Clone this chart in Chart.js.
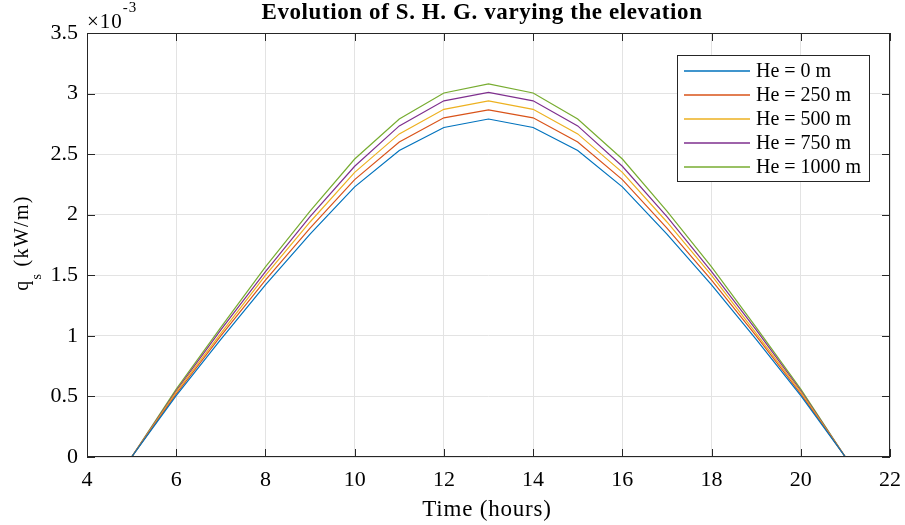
<!DOCTYPE html>
<html>
<head>
<meta charset="utf-8">
<script src="https://cdn.jsdelivr.net/npm/chart.js@4.4.0/dist/chart.umd.min.js"></script>
<style>
  body { margin: 0; padding: 0; background: white; }
  #wrap { width: 905px; height: 525px; }
</style>
</head>
<body>
<div id="wrap"><canvas id="chartCanvas"></canvas></div>
<script>
// hours of the day
const hours = [5, 6, 7, 8, 9, 10, 11, 12, 13, 14, 15, 16, 17, 18, 19, 20, 21];

// solar heat gain q_s, in units of 1e-3 kW/m
const qsHe0    = [0, 0.507, 0.97, 1.42, 1.84, 2.23, 2.53, 2.72, 2.79, 2.72, 2.53, 2.23, 1.84, 1.42, 0.97, 0.507, 0];
const qsHe250  = [0, 0.52, 1.00, 1.46, 1.89, 2.29, 2.60, 2.80, 2.865, 2.80, 2.60, 2.29, 1.89, 1.46, 1.00, 0.52, 0];
const qsHe500  = [0, 0.535, 1.02, 1.50, 1.94, 2.35, 2.667, 2.87, 2.94, 2.87, 2.667, 2.35, 1.94, 1.50, 1.02, 0.535, 0];
const qsHe750  = [0, 0.547, 1.05, 1.53, 1.985, 2.40, 2.733, 2.94, 3.01, 2.94, 2.733, 2.40, 1.985, 1.53, 1.05, 0.547, 0];
const qsHe1000 = [0, 0.56, 1.07, 1.57, 2.03, 2.46, 2.79, 3.005, 3.08, 3.005, 2.79, 2.46, 2.03, 1.57, 1.07, 0.56, 0];

const seriesLabels = ['He = 0 m', 'He = 250 m', 'He = 500 m', 'He = 750 m', 'He = 1000 m'];
const seriesValues = [qsHe0, qsHe250, qsHe500, qsHe750, qsHe1000];
const seriesColors = ['#0072BD', '#D95319', '#EDB120', '#7E2F8E', '#77AC30'];

const xTicks = [4, 6, 8, 10, 12, 14, 16, 18, 20, 22];
const yTicks = [0, 0.5, 1, 1.5, 2, 2.5, 3, 3.5];

const SERIF = '"Liberation Serif", "Times New Roman", serif';
const AXIS = '#262626';
const GRID = '#e3e3e3';

const datasets = seriesValues.map((vals, i) => ({
  label: seriesLabels[i],
  data: hours.map((h, k) => ({ x: h, y: vals[k] })),
  borderColor: seriesColors[i],
  backgroundColor: seriesColors[i],
  borderWidth: 1.2,
  pointRadius: 0,
  tension: 0
}));

// title, axis labels, exponent, inward ticks, box and legend
const decorations = {
  id: 'decorations',
  afterDraw(chart) {
    const ctx = chart.ctx;
    const a = chart.chartArea;
    const xs = chart.scales.x, ys = chart.scales.y;
    ctx.save();

    // box
    ctx.strokeStyle = AXIS;
    ctx.lineWidth = 1;
    ctx.strokeRect(a.left + 0.5, a.top + 0.5, a.right - a.left - 1, a.bottom - a.top - 1);

    // inward tick marks on all four sides
    ctx.beginPath();
    xTicks.forEach(t => {
      const px = Math.round(xs.getPixelForValue(t)) + 0.5;
      ctx.moveTo(px, a.bottom); ctx.lineTo(px, a.bottom - 8);
      ctx.moveTo(px, a.top); ctx.lineTo(px, a.top + 8);
    });
    yTicks.forEach(t => {
      const py = Math.round(ys.getPixelForValue(t)) + 0.5;
      ctx.moveTo(a.left, py); ctx.lineTo(a.left + 8, py);
      ctx.moveTo(a.right, py); ctx.lineTo(a.right - 8, py);
    });
    ctx.stroke();

    ctx.fillStyle = '#000';
    ctx.textBaseline = 'alphabetic';

    // title
    ctx.textAlign = 'center';
    ctx.letterSpacing = '0.6px';
    ctx.font = 'bold 23px ' + SERIF;
    ctx.fillText('Evolution of S. H. G. varying the elevation', 482, 19);

    // x axis label
    ctx.letterSpacing = '0.8px';
    ctx.font = '23px ' + SERIF;
    ctx.fillText('Time (hours)', 487, 516);

    // y axis label with a dropped subscript
    ctx.save();
    ctx.translate(28, 243);
    ctx.rotate(-Math.PI / 2);
    ctx.textAlign = 'left';
    ctx.letterSpacing = '1.3px';
    ctx.font = '20px ' + SERIF;
    const w1 = ctx.measureText('q').width;
    ctx.font = '14px ' + SERIF;
    const w2 = ctx.measureText('s').width;
    ctx.font = '20px ' + SERIF;
    const w3 = ctx.measureText(' (kW/m)').width;
    const x0 = -(w1 + w2 + w3) / 2;
    ctx.fillText('q', x0, 0);
    ctx.font = '14px ' + SERIF;
    ctx.fillText('s', x0 + w1, 13);
    ctx.font = '20px ' + SERIF;
    ctx.fillText(' (kW/m)', x0 + w1 + w2, 0);
    ctx.restore();

    // exponent
    ctx.textAlign = 'left';
    ctx.letterSpacing = '1px';
    ctx.font = '21px ' + SERIF;
    ctx.fillText('\u00d710', a.left, 28);
    const ew = ctx.measureText('\u00d710').width;
    ctx.font = '15px ' + SERIF;
    ctx.fillText('-3', a.left + ew, 12);
    ctx.letterSpacing = '0px';

    // legend
    const lx = 677, ly = 55, lw = 192, lh = 126;
    ctx.fillStyle = '#fff';
    ctx.fillRect(lx, ly, lw, lh);
    ctx.strokeStyle = AXIS;
    ctx.lineWidth = 1;
    ctx.strokeRect(lx + 0.5, ly + 0.5, lw, lh);
    ctx.font = '20px ' + SERIF;
    ctx.textBaseline = 'middle';
    seriesLabels.forEach((lab, i) => {
      const cy = 71 + i * 24;
      ctx.strokeStyle = seriesColors[i];
      ctx.lineWidth = 1.4;
      ctx.beginPath();
      ctx.moveTo(684, cy);
      ctx.lineTo(750, cy);
      ctx.stroke();
      ctx.fillStyle = '#000';
      ctx.fillText(lab, 756, cy + 1);
    });

    ctx.restore();
  }
};

new Chart(document.getElementById('chartCanvas'), {
  type: 'line',
  data: { datasets },
  plugins: [decorations],
  options: {
    responsive: true,
    maintainAspectRatio: false,
    animation: false,
    layout: { padding: { left: 0, top: 33, right: 15, bottom: 0 } },
    plugins: {
      legend: { display: false },
      tooltip: { enabled: false },
      title: { display: false }
    },
    scales: {
      x: {
        type: 'linear',
        min: 4,
        max: 22,
        afterBuildTicks: s => { s.ticks = xTicks.map(v => ({ value: v })); },
        afterFit: s => { s.height = 68; s.paddingLeft = 0; s.paddingRight = 0; },
        grid: { color: GRID, drawTicks: false },
        border: { display: false },
        ticks: {
          padding: 10,
          color: '#000',
          font: { family: SERIF, size: 22 },
          maxRotation: 0
        }
      },
      y: {
        type: 'linear',
        min: 0,
        max: 3.5,
        afterBuildTicks: s => { s.ticks = yTicks.map(v => ({ value: v })); },
        afterFit: s => { s.width = 87; s.paddingTop = 0; s.paddingBottom = 0; },
        grid: { color: GRID, drawTicks: false },
        border: { display: false },
        ticks: {
          padding: 9,
          color: '#000',
          font: { family: SERIF, size: 22 },
          callback: v => String(v)
        }
      }
    }
  }
});
</script>
</body>
</html>
